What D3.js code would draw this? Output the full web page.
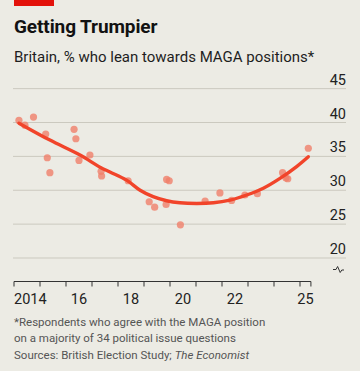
<!DOCTYPE html>
<html><head><meta charset="utf-8">
<script src="https://cdn.jsdelivr.net/npm/d3@7/dist/d3.min.js"></script>
<style>
html,body{margin:0;padding:0;background:#ecebe4;}
svg{display:block;}
text{font-family:Roboto,"Noto Sans",sans-serif;}
</style></head>
<body>
<script>
// Data
const pointYears = [2014.19,2014.42,2014.75,2015.22,2015.28,2015.38,2016.31,2016.38,2016.92,2016.5,2017.35,2017.37,2018.39,2019.2,2019.41,2019.87,2019.97,2019.85,2020.4,2021.35,2021.92,2022.37,2022.88,2023.36,2024.33,2024.46,2024.53,2025.32];
const pointValues = [40.3,39.6,40.8,38.3,34.8,32.6,39.0,37.6,35.2,34.4,32.8,32.1,31.4,28.3,27.5,31.6,31.4,27.9,24.9,28.4,29.6,28.5,29.3,29.5,32.6,31.8,31.7,36.2];
const trendYears = [2014.19,2015.38,2016.54,2017.31,2017.69,2018.33,2018.85,2019.35,2019.87,2020.38,2021.03,2021.67,2022.31,2022.95,2023.59,2024.23,2024.87,2025.32];
const trendValues = [39.9,37.4,35.2,33.4,32.7,31.5,30.0,29.05,28.45,28.15,28.05,28.15,28.55,29.3,30.3,31.75,33.5,34.95];
const yTicks = [20,25,30,35,40,45];
const xTickYears = [2014,2015,2016,2017,2018,2019,2020,2021,2022,2023,2024,2025];
const xLabels = [{year:2014,label:"2014"},{year:2016,label:"16"},{year:2018,label:"18"},{year:2020,label:"20"},{year:2022,label:"22"},{year:2025,label:"25"}];
const xEnd = 2025.42;

const W=360,H=371;
const svg=d3.select("body").append("svg").attr("width",W).attr("height",H);
svg.append("rect").attr("width",W).attr("height",H).attr("fill","#ecebe4");
svg.append("rect").attr("x",14).attr("y",0).attr("width",40).attr("height",6).attr("fill","#e3120b");

svg.append("text").attr("x",14).attr("y",33).attr("font-size",19).attr("font-weight",700).attr("fill","#121212").attr("letter-spacing",-0.1).text("Getting Trumpier");
svg.append("text").attr("x",14).attr("y",62).attr("font-size",15).attr("fill","#1e1e1e").text("Britain, % who lean towards MAGA positions*");

const x=d3.scaleLinear().domain([2014,2025]).range([14,300]);
const y=d3.scaleLinear().domain([20,40]).range([258,122.5]);

// gridlines
svg.append("g").selectAll("line").data(yTicks).join("line")
 .attr("x1",13).attr("x2",346).attr("y1",d=>y(d)).attr("y2",d=>y(d))
 .attr("stroke","#cbc9bf").attr("stroke-width",1);
svg.append("g").selectAll("text").data(yTicks).join("text")
 .attr("x",346).attr("y",d=>y(d)-4).attr("text-anchor","end").attr("font-size",14.5).attr("fill","#222").text(d=>d);

// break symbol
svg.append("path").attr("d","M333,269.5 L336,269.5 L337.6,266.5 L340.2,272.5 L341.8,270 L344,270")
 .attr("fill","none").attr("stroke","#333").attr("stroke-width",1);

// x axis
const base=281.5;
svg.append("line").attr("x1",x(2014)).attr("x2",x(xEnd)).attr("y1",base).attr("y2",base).attr("stroke","#333").attr("stroke-width",1.2);
svg.append("g").selectAll("line").data(xTickYears.concat([xEnd])).join("line")
 .attr("x1",d=>x(d)).attr("x2",d=>x(d)).attr("y1",base).attr("y2",base+5).attr("stroke","#333").attr("stroke-width",1);
svg.append("g").selectAll("text").data(xLabels).join("text")
 .attr("x",d=> d.year===2014 ? x(2014) : x(Math.min(d.year+0.5,(d.year+xEnd)/2)))
 .attr("y",303.5).attr("text-anchor",d=>d.year===2014?"start":"middle").attr("font-size",14.5).attr("fill","#222").text(d=>d.label);

// dots
svg.append("g").selectAll("circle").data(pointYears.map((t,i)=>[t,pointValues[i]])).join("circle")
 .attr("cx",d=>x(d[0])).attr("cy",d=>y(d[1])).attr("r",3.6).attr("fill","#f0806a").attr("fill-opacity",0.8);

// trend
const line=d3.line().x(d=>x(d[0])).y(d=>y(d[1])).curve(d3.curveCatmullRom.alpha(0.5));
svg.append("path").datum(trendYears.map((t,i)=>[t,trendValues[i]])).attr("d",line)
 .attr("fill","none").attr("stroke","#f1442a").attr("stroke-width",3.4).attr("stroke-linecap","round");

// footnotes
const notes=["*Respondents who agree with the MAGA position","on a majority of 34 political issue questions"];
svg.append("g").selectAll("text").data(notes).join("text").attr("x",14).attr("y",(d,i)=>325.5+i*16.5).attr("font-size",11.5).attr("fill","#555").text(d=>d);
const src=svg.append("text").attr("x",14).attr("y",358.5).attr("font-size",11.5).attr("fill","#555");
src.append("tspan").text("Sources: British Election Study; ");
src.append("tspan").attr("font-style","italic").text("The Economist");
</script>
</body></html>
